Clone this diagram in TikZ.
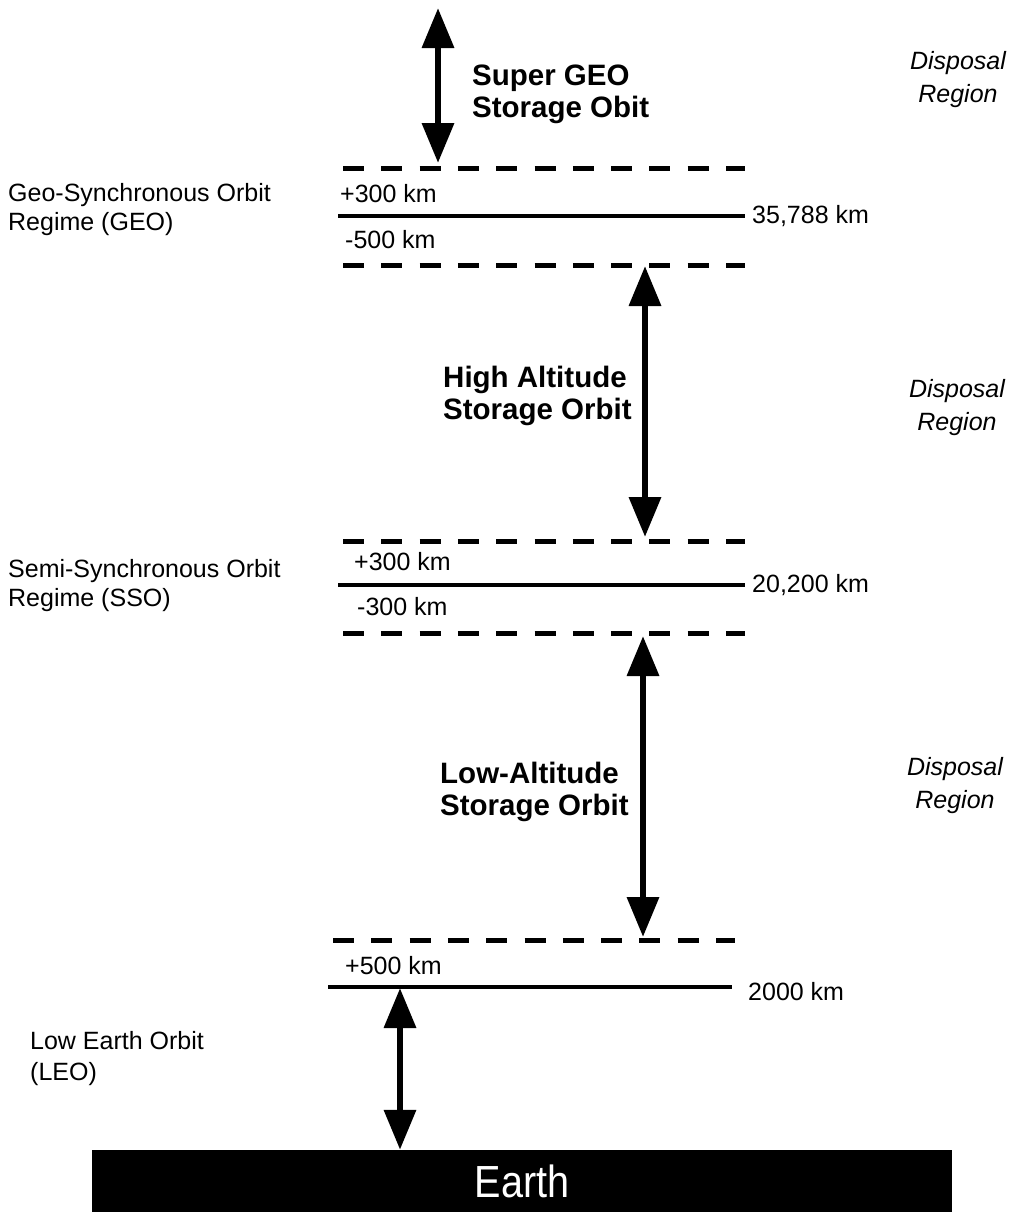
\documentclass[tikz,border=0pt]{standalone}
\usepackage{fontspec}
\setmainfont{Liberation Sans}
\usepackage{graphicx}
\usetikzlibrary{arrows.meta, positioning}

\begin{document}
\begin{tikzpicture}[x = 1bp, y = -1bp]%
    %
    \tikzstyle{arrow} = [{Triangle[length = 40bp, width = 31bp]}-{Triangle[length = 40bp, width = 31bp]}, line width = 6.5bp]%
    \tikzstyle{orbit} = [line width = 3.5bp]%
    \tikzstyle{bound} = [line width = 5bp, dash pattern = on 21bp off 17.3bp]%
    \tikzstyle{kmtext} = [font = \fontsize{25bp}{29bp}\selectfont, inner sep = 0pt]%
    \tikzstyle{regime} = [kmtext, align = left, anchor = west]%
    \tikzstyle{storage} = [font = \bfseries\fontsize{29.5bp}{32bp}\selectfont, align = left, anchor = west, inner sep = 0pt]%
    \tikzstyle{disposal} = [font = \itshape\fontsize{25bp}{33bp}\selectfont, align = center, inner sep = 0pt]%
    \tikzstyle{earthblock} = [rectangle, fill = black, text = white, minimum width = 860bp, minimum height = 62bp, font = \fontsize{45bp}{50bp}\selectfont]%
    %
    \useasboundingbox (0,0) rectangle (1016,1217);%
    %
    % GEO regime
    \draw [bound] (343,168) -- (745,168);%
    \draw [orbit] (338,216) -- (745,216) coordinate (geo-end);%
    \draw [bound] (343,265) -- (745,265);%
    \node [kmtext, right = 7bp of geo-end] (geo-alt) {35,788 km};%
    \node [kmtext, anchor = west] (geo-plus) at (340,194) {+300 km};%
    \node [kmtext, anchor = west] (geo-minus) at (345,240) {-500 km};%
    \node [regime] (geo-regime) at (8,210) {Geo-Synchronous Orbit\\Regime (GEO)};%
    %
    % SSO regime
    \draw [bound] (343,541) -- (745,541);%
    \draw [orbit] (338,585) -- (745,585) coordinate (sso-end);%
    \draw [bound] (343,633) -- (745,633);%
    \node [kmtext, right = 7bp of sso-end] (sso-alt) {20,200 km};%
    \node [kmtext, anchor = west] (sso-plus) at (354,562) {+300 km};%
    \node [kmtext, anchor = west] (sso-minus) at (357,607) {-300 km};%
    \node [regime] (sso-regime) at (8,586) {Semi-Synchronous Orbit\\Regime (SSO)};%
    %
    % LEO regime
    \draw [bound] (333,940) -- (735,940);%
    \draw [orbit] (328,987) -- (732,987) coordinate (leo-end);%
    \node [kmtext, right = 16bp of leo-end, yshift = -5bp] (leo-alt) {2000 km};%
    \node [kmtext, anchor = west] (leo-plus) at (345,966) {+500 km};%
    \node [regime, font = \fontsize{25bp}{31bp}\selectfont] (leo-regime) at (30,1059) {Low Earth Orbit\\(LEO)};%
    %
    % Earth
    \node [earthblock] (earth) at (522,1181) {\scalebox{0.88}[1]{Earth}};%
    %
    % storage orbits
    \coordinate (super-top) at (438,8);%
    \coordinate (super-bottom) at (438,163);%
    \coordinate (high-top) at (645,266);%
    \coordinate (high-bottom) at (645,537);%
    \coordinate (low-top) at (643,636);%
    \coordinate (low-bottom) at (643,937);%
    \coordinate (leo-top) at (400,988);%
    \path [draw, arrow] (super-top) -- (super-bottom);%
    \path [draw, arrow] (high-top) -- (high-bottom);%
    \path [draw, arrow] (low-top) -- (low-bottom);%
    \path [draw, arrow] (leo-top) -- (leo-top |- earth.north);%
    %
    \node [storage] (super-geo) at (472,94) {Super GEO\\Storage Obit};%
    \node [storage] (high-alt) at (443,396) {High Altitude\\Storage Orbit};%
    \node [storage] (low-alt) at (440,792) {Low-Altitude\\Storage Orbit};%
    %
    % disposal regions
    \node [disposal] (disposal-super) at (958,80) {Disposal\\Region};%
    \node [disposal] (disposal-high) at (957,408) {Disposal\\Region};%
    \node [disposal] (disposal-low) at (955,786) {Disposal\\Region};%
    %
\end{tikzpicture}
\end{document}
